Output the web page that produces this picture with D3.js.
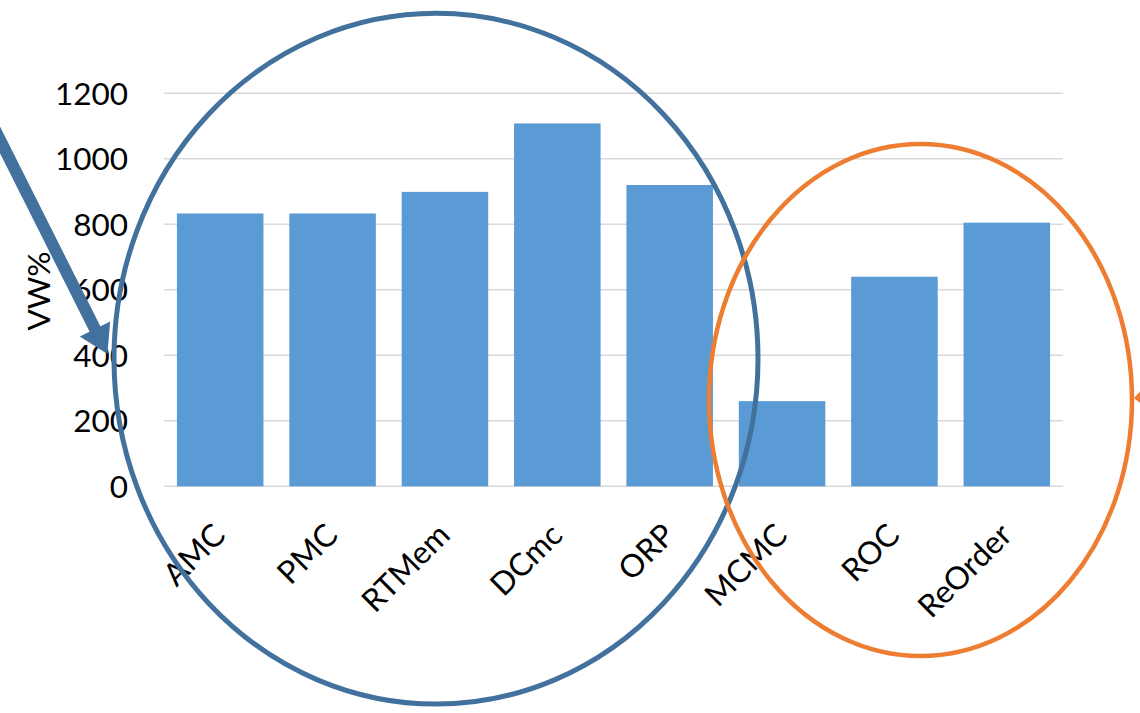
<!DOCTYPE html>
<html>
<head>
<meta charset="utf-8">
<script src="https://cdn.jsdelivr.net/npm/d3@7"></script>
<style>
  html, body { margin: 0; padding: 0; background: #fff; }
  svg { display: block; }
  text { font-family: Lato, "Open Sans", sans-serif; fill: #000; }
</style>
</head>
<body>
<svg id="chart" width="1140" height="713"></svg>
<script>
const categories = ["AMC", "PMC", "RTMem", "DCmc", "ORP", "MCMC", "ROC", "ReOrder"];
const values = [833, 833, 899, 1108, 920, 260, 640, 805];
const yTicks = [0, 200, 400, 600, 800, 1000, 1200];
const yTitle = "VW%";

const svg = d3.select("#chart");
const plot = { left: 164, right: 1063, top: 93.3, bottom: 486.3 };

const x = d3.scaleBand().domain(categories).range([plot.left, plot.right])
  .paddingInner(0.23).paddingOuter(0.115);
const y = d3.scaleLinear().domain([0, 1200]).range([plot.bottom, plot.top]);

// gridlines
svg.append("g").selectAll("line").data(yTicks).join("line")
  .attr("x1", plot.left).attr("x2", plot.right)
  .attr("y1", d => y(d)).attr("y2", d => y(d))
  .attr("stroke", "#d9d9d9").attr("stroke-width", 1.5);

// y tick labels
svg.append("g").selectAll("text").data(yTicks).join("text")
  .attr("x", 128).attr("y", d => y(d)).attr("dy", "0.36em")
  .attr("text-anchor", "end").attr("font-size", 31.5)
  .text(d => d);

// y title
svg.append("text")
  .attr("transform", "translate(50,291) rotate(-90)")
  .attr("text-anchor", "middle").attr("font-size", 31.5)
  .text(yTitle);

// bars
svg.append("g").selectAll("rect").data(categories).join("rect")
  .attr("x", d => x(d)).attr("width", x.bandwidth())
  .attr("y", (d, i) => y(values[i]))
  .attr("height", (d, i) => y(0) - y(values[i]))
  .attr("fill", "#5b9bd5");

// category labels
svg.append("g").selectAll("text").data(categories).join("text")
  .attr("transform", d => `translate(${x(d) + x.bandwidth() / 2 + 7},537) rotate(-45)`)
  .attr("text-anchor", "end").attr("font-size", 31.5)
  .text(d => d);

// annotations: ellipses
svg.append("ellipse")
  .attr("cx", 436).attr("cy", 358.7).attr("rx", 322).attr("ry", 345.4)
  .attr("fill", "none").attr("stroke", "#41719c").attr("stroke-width", 5);
svg.append("ellipse")
  .attr("cx", 920.5).attr("cy", 400).attr("rx", 211.5).attr("ry", 256)
  .attr("fill", "none").attr("stroke", "#ed7d31").attr("stroke-width", 4.5);

// blue arrow
svg.append("line")
  .attr("x1", -12).attr("y1", 116).attr("x2", 97).attr("y2", 333)
  .attr("stroke", "#41719c").attr("stroke-width", 12);
svg.append("polygon")
  .attr("points", "110.2,321.5 79.8,336.5 107.4,354.1")
  .attr("fill", "#41719c");

// orange arrow (mostly off-canvas)
svg.append("polygon")
  .attr("points", "1134,398 1160,370 1160,420")
  .attr("fill", "#ed7d31");
</script>
</body>
</html>
